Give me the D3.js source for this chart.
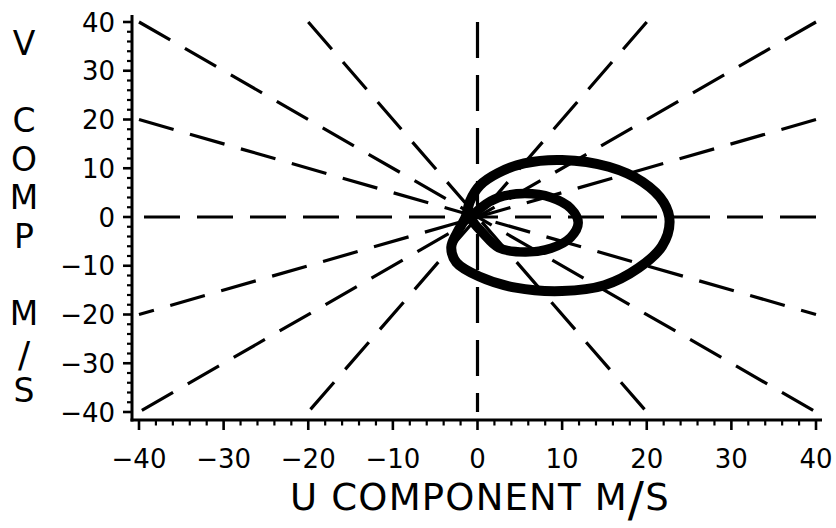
<!DOCTYPE html>
<html>
<head>
<meta charset="utf-8">
<script src="https://cdn.jsdelivr.net/npm/d3@7"></script>
<style>
  html, body { margin: 0; padding: 0; background: #fff; }
  svg { display: block; }
  text { font-family: "DejaVu Sans", sans-serif; fill: #000; }
</style>
</head>
<body>
<svg id="chart" width="836" height="528"></svg>
<script>
// ---- data ----
const xTickValues = [-40, -30, -20, -10, 0, 10, 20, 30, 40];
const yTickValues = [-40, -30, -20, -10, 0, 10, 20, 30, 40];
const minorStep = 2;
const xTitle = "U COMPONENT M/S";
const yTitleLetters = ["V", "", "C", "O", "M", "P", "", "M", "/", "S"];

// reference rays: start end (upper half), drawn through origin to the opposite end
const rayStartU = [40, 40, 40, 20, 0, -20, -40, -40];
const rayStartV = [0, 20, 40, 40, 40, 40, 40, 20];

// hodograph: outer loop (u, v in m/s)
const outerU = [10, 5.5, 2.4, 0.3, -0.9, -1.4, -2.4, -3.1, -2.5, 0.2, 4.5, 10, 15, 19, 21.8, 22.7, 22.0, 19.5, 15.5];
const outerV = [11.7, 11.0, 9.0, 6.5, 3.2, 0.0, -3.2, -6.2, -9.3, -12.2, -14.5, -15.2, -14.0, -10.5, -6.0, -1.0, 3.0, 7.2, 10.3];
// inner loop
const innerU = [11.9, 11.0, 8.7, 5.6, 2.5, 0.5, -0.6, 0.8, 2.5, 5.6, 8.7, 11.0];
const innerV = [-1.2, 1.8, 4.0, 4.8, 4.0, 2.0, -0.3, -3.6, -6.3, -7.2, -6.4, -4.2];

// ---- drawing ----
const svg = d3.select("#chart");
const x = d3.scaleLinear().domain([-40, 40]).range([139, 816]);
const y = d3.scaleLinear().domain([-40, 40]).range([412, 22]);

const axisX = 132, axisY = 420;

// dashed rays
svg.append("g").selectAll("line")
  .data(rayStartU.map((u, i) => [u, rayStartV[i]]))
  .join("line")
  .attr("x1", d => x(d[0])).attr("y1", d => y(d[1]))
  .attr("x2", d => x(-d[0])).attr("y2", d => y(-d[1]))
  .attr("stroke", "#000").attr("stroke-width", 3.2)
  .attr("stroke-dasharray", "36,17")
  .attr("stroke-linecap", "butt");

// hodograph loops
const line = d3.line().x(d => x(d[0])).y(d => y(d[1])).curve(d3.curveCatmullRomClosed.alpha(0.5));
svg.append("path")
  .attr("d", line(outerU.map((u, i) => [u, outerV[i]])))
  .attr("fill", "none").attr("stroke", "#000").attr("stroke-width", 10);
svg.append("path")
  .attr("d", line(innerU.map((u, i) => [u, innerV[i]])))
  .attr("fill", "none").attr("stroke", "#000").attr("stroke-width", 9.5);

// axes lines
svg.append("line").attr("x1", axisX).attr("x2", axisX).attr("y1", 15).attr("y2", axisY + 1.5)
  .attr("stroke", "#000").attr("stroke-width", 3);
svg.append("line").attr("x1", axisX - 1.5).attr("x2", 822).attr("y1", axisY).attr("y2", axisY)
  .attr("stroke", "#000").attr("stroke-width", 3);

// minor ticks
const minorVals = d3.range(-40, 40 + 0.001, minorStep).filter(v => v % 10 !== 0);
svg.append("g").selectAll("line").data(minorVals).join("line")
  .attr("x1", d => x(d)).attr("x2", d => x(d)).attr("y1", axisY).attr("y2", axisY + 5.5)
  .attr("stroke", "#000").attr("stroke-width", 2.2);
svg.append("g").selectAll("line").data(minorVals).join("line")
  .attr("y1", d => y(d)).attr("y2", d => y(d)).attr("x1", axisX - 5).attr("x2", axisX + 1)
  .attr("stroke", "#000").attr("stroke-width", 2.2);

// major ticks
svg.append("g").selectAll("line").data(xTickValues).join("line")
  .attr("x1", d => x(d)).attr("x2", d => x(d)).attr("y1", axisY).attr("y2", axisY + 10)
  .attr("stroke", "#000").attr("stroke-width", 2.6);
svg.append("g").selectAll("line").data(yTickValues).join("line")
  .attr("y1", d => y(d)).attr("y2", d => y(d)).attr("x1", axisX - 9).attr("x2", axisX + 1)
  .attr("stroke", "#000").attr("stroke-width", 2.6);

const fmt = v => (v < 0 ? "\u2212" + Math.abs(v) : String(v));

// tick labels
svg.append("g").selectAll("text").data(xTickValues).join("text")
  .attr("x", d => x(d)).attr("y", 468)
  .attr("text-anchor", "middle").attr("font-size", 26)
  .text(fmt);
svg.append("g").selectAll("text").data(yTickValues).join("text")
  .attr("x", 115).attr("y", d => y(d) + 9.5)
  .attr("text-anchor", "end").attr("font-size", 26)
  .text(fmt);

// x title
const xt = svg.append("text").attr("x", 480).attr("y", 510)
  .attr("text-anchor", "middle").attr("font-size", 37).attr("letter-spacing", 1.2);
const slashIdx = xTitle.indexOf("/");
xt.append("tspan").text(xTitle.slice(0, slashIdx));
xt.append("tspan").attr("font-size", 48).attr("dy", 6).text("/");
xt.append("tspan").attr("dy", -6).text(xTitle.slice(slashIdx + 1));

// y title (stacked letters)
svg.append("g").selectAll("text").data(yTitleLetters).join("text")
  .attr("x", 24)
  .attr("y", (d, i) => 55 + i * 38.6 + (d === "/" ? 3 : 0))
  .attr("text-anchor", "middle")
  .attr("font-size", d => d === "/" ? 36 : 33)
  .text(d => d);
</script>
</body>
</html>
